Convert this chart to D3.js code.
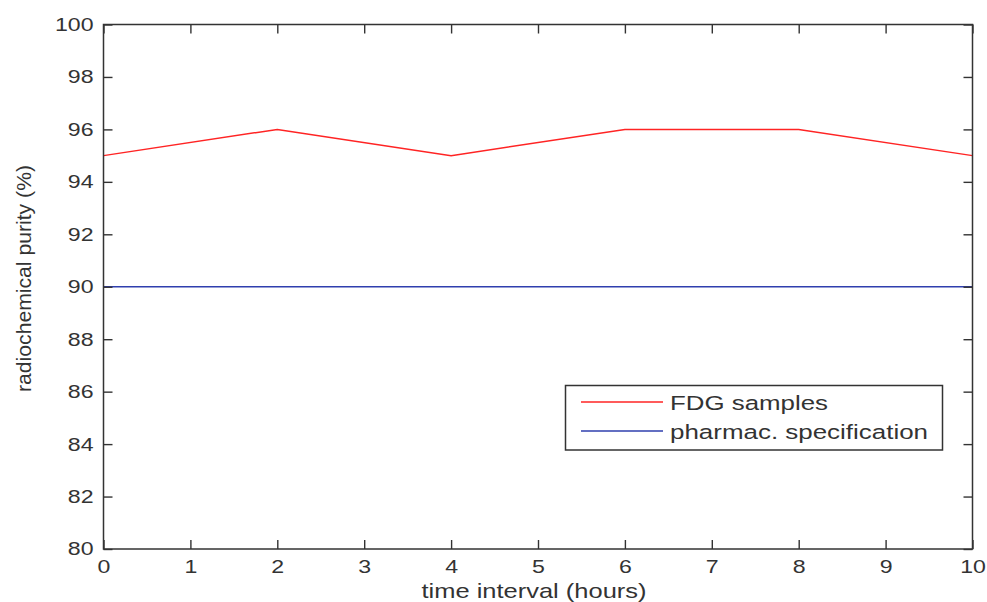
<!DOCTYPE html>
<html>
<head>
<meta charset="utf-8">
<script src="https://cdn.jsdelivr.net/npm/d3@7"></script>
<style>
  html, body { margin: 0; padding: 0; background: #fff; }
  svg { display: block; }
  text { font-family: "Liberation Sans", Arial, Helvetica, sans-serif; fill: #333; }
</style>
</head>
<body>
<svg id="chart" width="987" height="602"></svg>
<script>
// ---- data ----
const hours = [0, 2, 4, 6, 8, 10];
const fdgSamples = [95, 96, 95, 96, 96, 95];
const specHours = [0, 10];
const specValues = [90, 90];
const xTicks = [0, 1, 2, 3, 4, 5, 6, 7, 8, 9, 10];
const yTicks = [80, 82, 84, 86, 88, 90, 92, 94, 96, 98, 100];
const seriesNames = ["FDG samples", "pharmac. specification"];
const seriesColors = ["#ff2424", "#2f3fae"];
const xLabel = "time interval (hours)";
const yLabel = "radiochemical purity (%)";

// ---- layout ----
const L = 103.5, R = 972.5, T = 24.5, B = 549;
const svg = d3.select("#chart");
const x = d3.scaleLinear().domain([0, 10]).range([L, R]);
const y = d3.scaleLinear().domain([80, 100]).range([B, T]);
const SX = 1.25; // horizontal stretch of glyphs in reference

// background plot area
svg.append("rect").attr("x", L).attr("y", T).attr("width", R - L).attr("height", B - T).attr("fill", "#fff");

// lines
const line = d3.line().x(d => x(d[0])).y(d => y(d[1]));
svg.append("path")
  .datum(hours.map((h, i) => [h, fdgSamples[i]]))
  .attr("d", line).attr("fill", "none").attr("stroke", seriesColors[0]).attr("stroke-width", 1.5);
svg.append("path")
  .datum(specHours.map((h, i) => [h, specValues[i]]))
  .attr("d", line).attr("fill", "none").attr("stroke", seriesColors[1]).attr("stroke-width", 1.5);

// axes
function styleAxis(g) {
  g.select(".domain").remove();
  g.selectAll(".tick line").attr("stroke", "#333").attr("stroke-width", 1.4);
}
const gl = svg.append("g").attr("transform", `translate(${L},0)`)
  .call(d3.axisLeft(y).tickValues(yTicks).tickSizeInner(-9).tickSizeOuter(0).tickPadding(8).tickFormat(d3.format("d")));
styleAxis(gl);
gl.selectAll(".tick text").attr("font-size", 18.5).attr("fill", "#333")
  .attr("transform", `scale(${SX},1)`);

const gb = svg.append("g").attr("transform", `translate(0,${B})`)
  .call(d3.axisBottom(x).tickValues(xTicks).tickSizeInner(-9).tickSizeOuter(0).tickPadding(11).tickFormat(d3.format("d")));
styleAxis(gb);
gb.selectAll(".tick text").attr("font-size", 18.5).attr("fill", "#333")
  .each(function() {
    const t = d3.select(this);
    t.attr("transform", `scale(${SX},1)`);
  });

const gt = svg.append("g").attr("transform", `translate(0,${T})`)
  .call(d3.axisTop(x).tickValues(xTicks).tickSizeInner(-9).tickSizeOuter(0).tickFormat(""));
styleAxis(gt);
const gr = svg.append("g").attr("transform", `translate(${R},0)`)
  .call(d3.axisRight(y).tickValues(yTicks).tickSizeInner(-9).tickSizeOuter(0).tickFormat(""));
styleAxis(gr);

// frame
svg.append("rect").attr("x", L).attr("y", T).attr("width", R - L).attr("height", B - T)
  .attr("fill", "none").attr("stroke", "#333").attr("stroke-width", 1.5);

// axis labels
svg.append("text").attr("x", 534).attr("y", 598).attr("text-anchor", "middle")
  .attr("font-size", 21).attr("textLength", 225).attr("lengthAdjust", "spacingAndGlyphs")
  .text(xLabel);
svg.append("text").attr("transform", "translate(31,278.5) rotate(-90)").attr("text-anchor", "middle")
  .attr("font-size", 20).attr("textLength", 227).attr("lengthAdjust", "spacingAndGlyphs")
  .text(yLabel);

// legend
const lg = svg.append("g");
lg.append("rect").attr("x", 565.5).attr("y", 385.5).attr("width", 377).attr("height", 64.5)
  .attr("fill", "#fff").attr("stroke", "#333").attr("stroke-width", 1.5);
const legY = [402, 431];
const legBase = [409.5, 438.5];
const legLen = [158, 258];
seriesNames.forEach((name, i) => {
  lg.append("line").attr("x1", 581).attr("x2", 663).attr("y1", legY[i]).attr("y2", legY[i])
    .attr("stroke", seriesColors[i]).attr("stroke-width", 1.5);
  lg.append("text").attr("x", 670).attr("y", legBase[i]).attr("font-size", 20.5)
    .attr("textLength", legLen[i]).attr("lengthAdjust", "spacingAndGlyphs").text(name);
});
</script>
</body>
</html>
